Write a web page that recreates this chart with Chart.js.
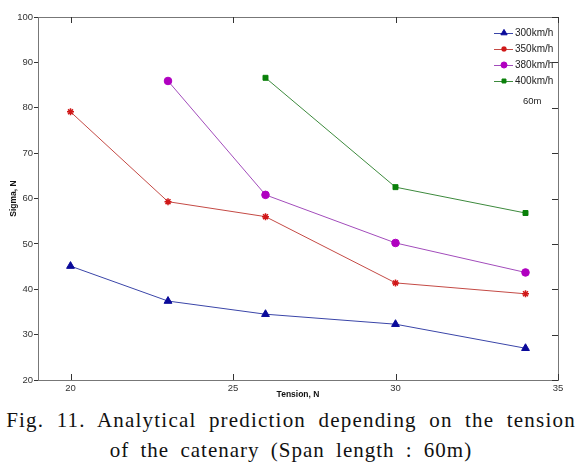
<!DOCTYPE html>
<html>
<head>
<meta charset="utf-8">
<script src="https://cdn.jsdelivr.net/npm/chart.js@4"></script>
<style>
  body { margin: 0; background: #fff; }
  #wrap { position: relative; width: 582px; height: 468px; }
  #box { position: absolute; left: 0; top: 0; width: 582px; height: 408px; }
  .cap { position: absolute; left: 0; width: 582px; text-align: center; white-space: nowrap;
         font-family: "Liberation Serif", serif; font-size: 21px; color: #111;
         letter-spacing: 1.2px; word-spacing: 6px; }
</style>
</head>
<body>
<div id="wrap">
  <div id="box"><canvas id="c"></canvas></div>
  <div class="cap" style="top:408px">Fig. 11. Analytical prediction depending on the tension</div>
  <div class="cap" style="top:438px; letter-spacing:1px; word-spacing:5px">of the catenary (Span length : 60m)</div>
</div>
<script>
// tension values and sigma per train speed
const tension = [20, 23, 26, 30, 34];
const s300 = [45.1, 37.4, 34.5, 32.3, 27.0];
const s350 = [79.1, 59.3, 56.0, 41.4, 39.0];
const s380 = [null, 85.9, 60.8, 50.2, 43.7];
const s400 = [null, null, 86.6, 62.5, 56.8];
const xTicks = [20, 25, 30, 35];
const yTicks = [20, 30, 40, 50, 60, 70, 80, 90, 100];
const names = ['300km/h', '350km/h', '380km/h', '400km/h'];

function pts(vals) {
  const out = [];
  vals.forEach((v, i) => { if (v !== null) out.push({ x: tension[i], y: v }); });
  return out;
}

const ds = [
  { label: names[0], data: pts(s300), borderColor: '#3a45a8', backgroundColor: '#0a0a9a', pointStyle: 'triangle', pointRadius: 4.5 },
  { label: names[1], data: pts(s350), borderColor: '#c44a45', backgroundColor: '#d01818', pointBorderColor: '#d01818', pointStyle: 'star', pointRadius: 3.5, pointBorderWidth: 1.5 },
  { label: names[2], data: pts(s380), borderColor: '#a24cbb', backgroundColor: '#b000c0', pointStyle: 'circle', pointRadius: 3.8 },
  { label: names[3], data: pts(s400), borderColor: '#3d8a3d', backgroundColor: '#0a800a', pointStyle: 'rect', pointRadius: 3.5 }
].map(d => Object.assign({ showLine: true, borderWidth: 1, pointBorderColor: d.pointBorderColor || d.backgroundColor, pointBorderWidth: d.pointBorderWidth || 1 }, d));

const frame = {
  id: 'frame',
  afterDraw(chart) {
    const { ctx, chartArea: a, scales: { x, y } } = chart;
    ctx.save();
    ctx.strokeStyle = '#777';
    ctx.lineWidth = 1;
    ctx.strokeRect(a.left + 0.5, a.top + 0.5, a.right - a.left, a.bottom - a.top);
    ctx.strokeStyle = '#333';
    ctx.beginPath();
    xTicks.forEach(v => {
      const px = Math.round(x.getPixelForValue(v)) + 0.5;
      ctx.moveTo(px, a.bottom); ctx.lineTo(px, a.bottom - 6);
      ctx.moveTo(px, a.top); ctx.lineTo(px, a.top + 6);
    });
    yTicks.forEach(v => {
      const py = Math.round(y.getPixelForValue(v)) + 0.5;
      ctx.moveTo(a.right, py); ctx.lineTo(a.right - 6, py);
    });
    ctx.stroke();
    // legend
    ctx.font = '10px "Liberation Sans", Arial, sans-serif';
    ctx.textBaseline = 'middle';
    const lx = a.right - 64, ly = a.top + 16;
    chart.data.datasets.forEach((d, i) => {
      const yy = ly + i * 16;
      ctx.strokeStyle = d.borderColor;
      ctx.beginPath(); ctx.moveTo(lx, yy + 0.5); ctx.lineTo(lx + 19, yy + 0.5); ctx.stroke();
      ctx.fillStyle = d.backgroundColor; ctx.strokeStyle = d.pointBorderColor;
      ctx.lineWidth = d.pointBorderWidth;
      Chart.helpers.drawPoint(ctx, { pointStyle: d.pointStyle, radius: d.pointRadius * 0.8, borderWidth: d.pointBorderWidth, rotation: 0 }, lx + 10, yy);
      ctx.lineWidth = 1;
      ctx.fillStyle = '#222';
      ctx.fillText(d.label, lx + 21, yy);
    });
    ctx.font = '9.5px "Liberation Sans", Arial, sans-serif';
    ctx.fillText('60m', lx + 29, ly + 4 * 16 + 4);
    ctx.restore();
  }
};

new Chart(document.getElementById('c'), {
  type: 'scatter',
  data: { datasets: ds },
  options: {
    responsive: true,
    maintainAspectRatio: false,
    animation: false,
    layout: { padding: { top: 17, right: 24, left: 9, bottom: 8 } },
    plugins: { legend: { display: false }, tooltip: { enabled: false } },
    scales: {
      x: {
        type: 'linear', min: 19, max: 35,
        afterBuildTicks: s => { s.ticks = xTicks.map(v => ({ value: v })); },
        afterFit: s => { s.height = 20; },
        grid: { drawOnChartArea: false, drawTicks: false },
        border: { display: false },
        ticks: { padding: 3, color: '#333', font: { size: 9.5, family: '"Liberation Sans", Arial, sans-serif' } },
        title: { display: true, text: 'Tension, N', color: '#111', padding: { top: 0, bottom: 0 }, font: { size: 8.5, weight: 'bold', family: '"Liberation Sans", Arial, sans-serif' } }
      },
      y: {
        min: 20, max: 100,
        afterBuildTicks: s => { s.ticks = yTicks.map(v => ({ value: v })); },
        afterFit: s => { s.width = 29; },
        grid: { drawOnChartArea: false, tickLength: 4, color: '#333' },
        border: { display: false },
        ticks: { padding: 1, color: '#333', font: { size: 9.5, family: '"Liberation Sans", Arial, sans-serif' } },
        title: { display: true, text: 'Sigma, N', color: '#111', padding: 0, font: { size: 8.5, weight: 'bold', family: '"Liberation Sans", Arial, sans-serif' } }
      }
    }
  },
  plugins: [frame]
});
</script>
</body>
</html>
